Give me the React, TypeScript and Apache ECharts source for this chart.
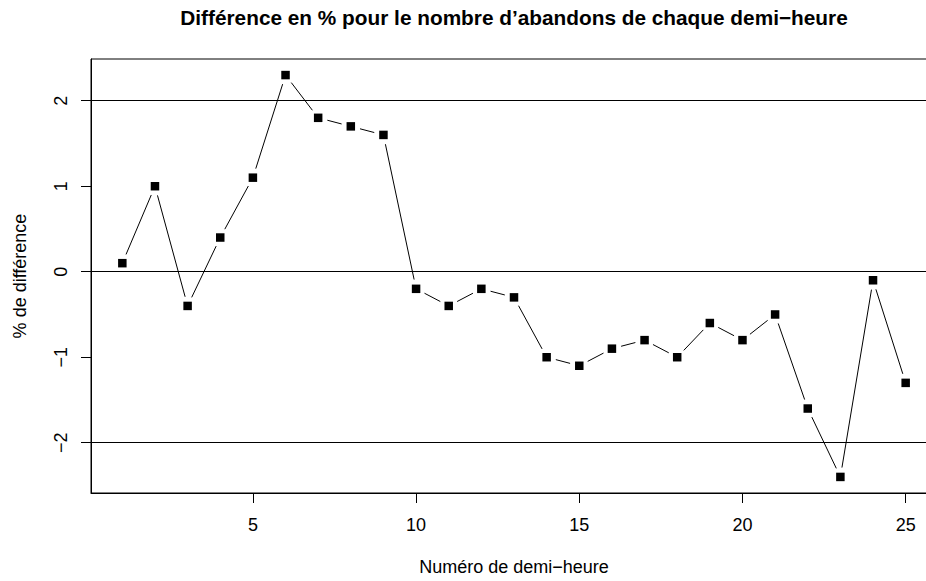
import React, { useEffect, useRef } from "react";
import * as echarts from "echarts";

const halfHours = [1, 2, 3, 4, 5, 6, 7, 8, 9, 10, 11, 12, 13, 14, 15, 16, 17, 18, 19, 20, 21, 22, 23, 24, 25];
const pctDiff = [0.1, 1.0, -0.4, 0.4, 1.1, 2.3, 1.8, 1.7, 1.6, -0.2, -0.4, -0.2, -0.3, -1.0, -1.1, -0.9, -0.8, -1.0, -0.6, -0.8, -0.5, -1.6, -2.4, -0.1, -1.3];
const xTicks = [5, 10, 15, 20, 25];
const yTicks = [-2, -1, 0, 1, 2];
const refLines = [-2, 0, 2];

const titleText = "Différence en % pour le nombre d’abandons de chaque demi−heure";
const xTitle = "Numéro de demi−heure";
const yTitle = "% de différence";

const FONT = "'Liberation Sans', Arial, Helvetica, sans-serif";

export default function App() {
  const ref = useRef<HTMLDivElement>(null);
  useEffect(() => {
    document.body.style.margin = "0";
    const chart = echarts.init(ref.current!, null, { renderer: "svg" });
    const points = halfHours.map((x, i) => [x, pctDiff[i]]);
    const segments = halfHours.slice(0, -1).map((x, i) => [x, pctDiff[i], halfHours[i + 1], pctDiff[i + 1]]);
    const xMin = 1 - 0.04 * 24;
    const xMax = 25 + 0.04 * 24;
    const yLo = Math.min(...pctDiff);
    const yHi = Math.max(...pctDiff);
    const yr = yHi - yLo;
    const gap = 9.5;
    chart.setOption({
      animation: false,
      backgroundColor: "#fff",
      textStyle: { fontFamily: FONT },
      title: {
        text: titleText,
        left: 514,
        textAlign: "center",
        top: 7,
        padding: 0,
        textStyle: { fontFamily: FONT, fontWeight: "bold", fontSize: 20.8, color: "#000" },
      },
      grid: {
        left: 91,
        top: 59,
        width: 846,
        height: 437,
        show: true,
        borderColor: "#000",
        borderWidth: 1,
        backgroundColor: "transparent",
      },
      xAxis: {
        type: "value",
        min: xMin,
        max: xMax,
        name: xTitle,
        nameLocation: "middle",
        nameGap: 65,
        nameTextStyle: { fontFamily: FONT, fontSize: 18, color: "#000" },
        axisLine: { show: true, onZero: false, lineStyle: { color: "#000", width: 1 } },
        axisTick: { show: true, length: 10, customValues: xTicks, lineStyle: { color: "#000" } },
        axisLabel: { customValues: xTicks, margin: 23, fontSize: 18, color: "#000", fontFamily: FONT },
        splitLine: { show: false },
      },
      yAxis: {
        type: "value",
        min: yLo - 0.04 * yr,
        max: yHi + 0.04 * yr,
        name: yTitle,
        nameLocation: "middle",
        nameGap: 62,
        nameRotate: 90,
        nameTextStyle: { fontFamily: FONT, fontSize: 18, color: "#000" },
        axisLine: { show: true, onZero: false, lineStyle: { color: "#000", width: 1 } },
        axisTick: { show: true, length: 10, customValues: yTicks, lineStyle: { color: "#000" } },
        axisLabel: {
          customValues: yTicks,
          rotate: 90,
          margin: 21,
          fontSize: 18,
          color: "#000",
          fontFamily: FONT,
          formatter: (v: number) => String(v).replace("-", "−"),
        },
        splitLine: { show: false },
      },
      series: [
        {
          type: "custom",
          silent: true,
          data: segments,
          renderItem: (params: any, api: any) => {
            const p1 = api.coord([api.value(0), api.value(1)]);
            const p2 = api.coord([api.value(2), api.value(3)]);
            const dx = p2[0] - p1[0];
            const dy = p2[1] - p1[1];
            const len = Math.sqrt(dx * dx + dy * dy);
            if (len <= 2 * gap) return { type: "group", children: [] };
            const ux = dx / len;
            const uy = dy / len;
            return {
              type: "line",
              shape: {
                x1: p1[0] + ux * gap,
                y1: p1[1] + uy * gap,
                x2: p2[0] - ux * gap,
                y2: p2[1] - uy * gap,
              },
              style: { stroke: "#000", lineWidth: 1 },
            };
          },
          markLine: {
            silent: true,
            symbol: "none",
            label: { show: false },
            lineStyle: { color: "#000", width: 1, type: "solid" },
            data: refLines.map((y) => ({ yAxis: y })),
          },
        },
        {
          type: "scatter",
          data: points,
          symbol: "rect",
          symbolSize: 8.5,
          itemStyle: { color: "#000", opacity: 1 },
        },
      ],
    });
    return () => chart.dispose();
  }, []);
  return (
    <div style={{ width: 926, height: 581, position: "absolute", left: 0, top: 0, overflow: "hidden" }}>
      <div ref={ref} style={{ width: 960, height: 581 }} />
    </div>
  );
}
